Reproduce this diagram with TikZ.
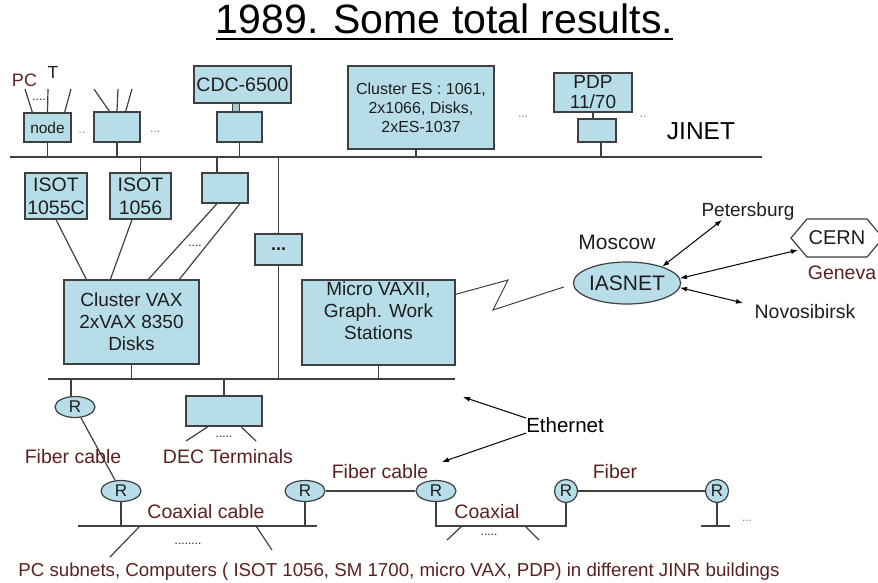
\documentclass[tikz,border=0pt]{standalone}
\usepackage{fontspec}
\setmainfont{Liberation Sans}
\usetikzlibrary{arrows.meta}
\usetikzlibrary{calc}
\usetikzlibrary{shapes.geometric}
\usetikzlibrary{shapes.symbols}

\definecolor{boxblue}{RGB}{183,221,232}
\definecolor{wire}{RGB}{64,64,64}
\definecolor{darkred}{RGB}{92,32,32}
\definecolor{ink}{RGB}{30,30,30}

\tikzset{
  ln/.style={draw=wire, line width=1.2pt},
  box/.style={draw=wire, line width=1.3pt, fill=boxblue, inner sep=0pt, align=center, text=ink},
  router/.style={ellipse, draw=wire, line width=1.2pt, fill=boxblue, minimum width=40pt, minimum height=21pt, inner sep=0pt, text=ink, font=\fontsize{17}{17}\selectfont},
  smallrouter/.style={router, minimum width=23pt, minimum height=23pt},
  lbl/.style={inner sep=0pt, text=ink},
  redlbl/.style={inner sep=0pt, text=darkred},
  hint/.style={inner sep=0pt, text=gray, font=\fontsize{12}{12}\selectfont},
  arr/.style={-{Latex[length=7pt,width=5pt]}, line width=1pt, draw=black},
  dblarr/.style={{Latex[length=7pt,width=5pt]}-{Latex[length=7pt,width=5pt]}, line width=1pt, draw=black},
  fbox/.style={font=\fontsize{19.5}{23}\selectfont},
  fvax/.style={font=\fontsize{19}{22}\selectfont},
  flab/.style={font=\fontsize{19.5}{20}\selectfont},
}

\begin{document}
\begin{tikzpicture}[x=1pt,y=-1pt]
\useasboundingbox (0,0) rectangle (878,582);

\node[lbl, anchor=base, text=black, font=\fontsize{41}{41}\selectfont] (title) at (444.5,33) {1989. Some total results.};
\draw[black, line width=2.5pt] ([yshift=-6pt]title.base west) -- ([yshift=-6pt]title.base east);

\coordinate (jl) at (10,157);
\coordinate (jr) at (762,157);
\coordinate (ll) at (48,379);
\coordinate (lr) at (455,379);
\coordinate (cl) at (78,526);
\coordinate (cr) at (317,526);

\node[box, minimum width=47pt, minimum height=29pt, font=\fontsize{15.5}{16}\selectfont] (node1) at (47.5,127.5) {node};
\node[box, minimum width=46pt, minimum height=30pt] (node2) at (117,127) {};
\node[box, minimum width=97pt, minimum height=37pt, fbox] (cdc) at (242.5,84.5) {CDC-6500};
\node[box, minimum width=45pt, minimum height=30pt] (cdcnode) at (239.5,127) {};
\node[box, minimum width=146pt, minimum height=83pt, font=\fontsize{16}{19}\selectfont] (eshost) at (421,107.5) {Cluster ES : 1061,\\2x1066, Disks,\\2xES-1037};
\node[box, minimum width=78pt, minimum height=39pt, font=\fontsize{19}{20}\selectfont] (pdp) at (593,92.5) {PDP\\11/70};
\node[box, minimum width=38pt, minimum height=23pt] (pdpnode) at (597,130.5) {};
\node[lbl, text=black, font=\fontsize{24.5}{25}\selectfont] (jinet) at (701,131) {JINET};

\node[redlbl, font=\fontsize{18}{18}\selectfont] (pc) at (24.5,80) {PC};
\node[lbl, font=\fontsize{17.5}{18}\selectfont] (term) at (53,72) {T};
\node[lbl, font=\fontsize{12}{12}\selectfont] at (39,100) {....};
\node[hint] at (82,133) {..};
\node[hint] at (155,132) {...};
\node[hint] at (523,117) {...};
\node[hint] at (643,117) {..};

\coordinate (pcA) at (25,89);
\coordinate (pcB) at (48,89);
\coordinate (pcC) at (71,89);
\coordinate (nA) at (94,89);
\coordinate (nB) at (118,89);
\coordinate (nC) at (132,89);
\draw[ln] (pcA) -- ([xshift=9pt]node1.north west);
\draw[ln] (pcB) -- (node1.north);
\draw[ln] (pcC) -- ([xshift=-7pt]node1.north east);
\draw[ln] (nA) -- ([xshift=16pt]node2.north west);
\draw[ln] (nB) -- (node2.north);
\draw[ln] (nC) -- ([xshift=-15pt]node2.north east);
\draw[wire, fill=boxblue!75!gray, line width=0.6pt] ([xshift=-10pt]cdc.south) rectangle (cdcnode.north);
\draw[ln] (pdp.south) -- (pdp.south |- pdpnode.north);

\draw[ln] (jl) -- (jr);
\draw[ln] (node1) -- (node1 |- jl);
\draw[ln] (node2) -- (node2 |- jl);
\draw[ln] (cdcnode) -- (cdcnode |- jl);
\draw[ln] ([xshift=-5pt]eshost.south) -- ([xshift=-5pt]eshost.south |- jl);
\draw[ln] ([xshift=4pt]pdpnode.south) -- ([xshift=4pt]pdpnode.south |- jl);

\node[box, minimum width=62pt, minimum height=46pt, fbox] (isotA) at (56,196) {ISOT\\1055C};
\node[box, minimum width=61pt, minimum height=46pt, fbox] (isotB) at (140.5,196) {ISOT\\1056};
\node[box, minimum width=46pt, minimum height=30pt] (cnode) at (225,188) {};
\node[box, minimum width=47pt, minimum height=31pt, font=\fontsize{18}{18}\selectfont\bfseries] (dotsbox) at (278.5,249.5) {...};
\node[box, minimum width=135pt, minimum height=84pt, fvax] (vax) at (131.5,322) {Cluster VAX\\2xVAX 8350\\Disks};
\node[box, minimum width=153pt, minimum height=85pt,
  label={[lbl, align=center, fvax, yshift=12pt]center:{Micro VAXII,\\Graph. Work\\Stations}}] (micro) at (378.5,322.5) {};
\node[lbl, font=\fontsize{12}{12}\selectfont] at (195,246) {....};

\draw[ln] (dotsbox) -- (dotsbox |- jl);
\draw[ln] (dotsbox) -- (dotsbox |- ll);
\draw[ln] (isotB) -- (isotB |- jl);
\draw[ln] ([xshift=-8pt]cnode.north) -- ([xshift=-8pt]cnode.north |- jl);
\draw[ln] (isotA.south) -- ([xshift=23pt]vax.north west);
\draw[ln] ([xshift=-8.5pt]isotB.south) -- ([xshift=47pt]vax.north west);
\draw[ln] ([xshift=-8pt]cnode.south) -- ([xshift=85pt]vax.north west);
\draw[ln] ([xshift=15pt]cnode.south) -- ([xshift=116pt]vax.north west);

\node[ellipse, draw=wire, line width=1.2pt, fill=boxblue, minimum width=100pt, minimum height=42pt, inner sep=0pt, text=ink, font=\fontsize{21}{21}\selectfont] (ias) at (627,283) {IASNET};
\node[lbl, font=\fontsize{21}{21}\selectfont] (moscow) at (617,242) {Moscow};
\node[lbl, font=\fontsize{19}{19}\selectfont] (pet) at (748,212) {Petersburg};
\node[signal, signal to=west and east, signal pointer angle=100, draw=wire, line width=1.2pt, fill=white, minimum width=92pt, minimum height=38pt, inner sep=0pt, text=ink, font=\fontsize{20}{20}\selectfont] (cern) at (837,238) {CERN};
\node[redlbl, font=\fontsize{19.5}{20}\selectfont] (geneva) at (842,273) {Geneva};
\node[lbl, font=\fontsize{19.5}{20}\selectfont] (nov) at (805,312) {Novosibirsk};

\coordinate (zzA) at (508,280);
\coordinate (zzB) at (493,310);
\draw[wire, line width=1pt] ($(micro.north east)+(0,15)$) -- (zzA) -- (zzB) -- ($(ias.west)+(-9,4)$);
\coordinate (petin) at (722,220);
\coordinate (cernin) at (798,250);
\coordinate (novin) at (743,303);
\draw[dblarr] (ias.25) -- (petin);
\draw[dblarr] (ias.5) -- (cernin);
\draw[dblarr] (ias.-5) -- (novin);

\draw[ln] (ll) -- (lr);
\draw[ln] (vax) -- (vax |- ll);
\draw[ln] (micro) -- (micro |- ll);

\node[router] (R1) at (75,407) {R};
\node[box, minimum width=76pt, minimum height=30pt] (dec) at (224,411) {};
\draw[ln] ([xshift=-4pt]R1.north) -- ([xshift=-4pt]R1.north |- ll);
\draw[ln] (dec) -- (dec |- ll);
\coordinate (decA) at (186,441);
\coordinate (decB) at (256,441);
\draw[ln] ([xshift=-16pt]dec.south) -- (decA);
\draw[ln] ([xshift=17pt]dec.south) -- (decB);
\node[lbl, font=\fontsize{12}{12}\selectfont] at (224,437) {.....};

\node[router] (R2) at (121,491) {R};
\node[router] (R3) at (305,491) {R};
\node[router] (R4) at (436,491) {R};
\node[smallrouter] (R5) at (566,491) {R};
\node[smallrouter] (R6) at (717,491) {R};

\draw[ln] (R1) -- (R2);
\draw[ln] (cl) -- (cr);
\draw[ln] (R2) -- (R2 |- cl);
\draw[ln] (R3) -- (R3 |- cl);
\draw[ln] (R3) -- (R4);
\draw[ln] (R4) -- (R4 |- cl) -| (R5);
\draw[ln] (R5) -- (R6);
\draw[ln] (R6) -- (R6 |- cl);
\draw[ln] ($(R6 |- cl)+(-16,0)$) -- ($(R6 |- cl)+(13,0)$);

\coordinate (sA) at (110,557);
\coordinate (sB) at (272,550);
\coordinate (sC) at (447,540);
\coordinate (sD) at (539,540);
\draw[ln] ($(cl)+(62,0)$) -- (sA);
\draw[ln] ($(cl)+(178,0)$) -- (sB);
\draw[ln] ($(R4 |- cl)+(26,0)$) -- (sC);
\draw[ln] ($(R4 |- cl)+(89,0)$) -- (sD);
\node[lbl, font=\fontsize{12}{12}\selectfont] at (188,544) {........};
\node[lbl, font=\fontsize{12}{12}\selectfont] at (489,535) {.....};
\node[hint] at (747,521) {...};

\node[redlbl, flab] (fibA) at (73,457) {Fiber cable};
\node[redlbl, flab] (decl) at (228,457) {DEC Terminals};
\node[redlbl, flab] (coaxA) at (206,512) {Coaxial cable};
\node[redlbl, flab] (fibB) at (380,472) {Fiber cable};
\node[redlbl, flab] (coaxB) at (487,512) {Coaxial};
\node[redlbl, flab] (fibC) at (615,472) {Fiber};
\node[lbl, text=black, font=\fontsize{20.5}{21}\selectfont] (eth) at (565,425) {Ethernet};
\coordinate (ethA) at (463,397);
\coordinate (ethB) at (442,462);
\draw[arr] ([yshift=7pt]eth.west) -- (ethA);
\draw[arr] ([yshift=-8pt]eth.west) -- (ethB);

\node[redlbl, font=\fontsize{18.7}{19}\selectfont] (subnets) at (399,572) {PC subnets, Computers ( ISOT 1056, SM 1700, micro VAX, PDP) in different JINR buildings};
\end{tikzpicture}
\end{document}
